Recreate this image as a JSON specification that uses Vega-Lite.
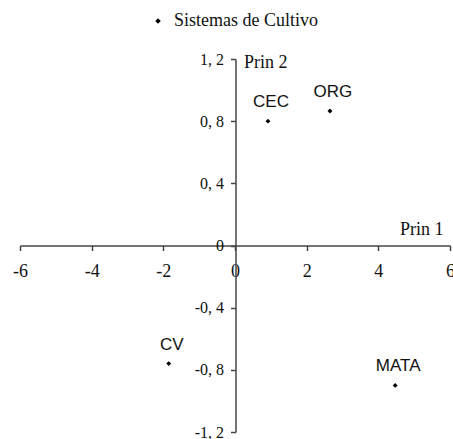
{
  "$schema": "https://vega.github.io/schema/vega-lite/v6.json",
  "autosize": {"type": "none"},
  "width": 430,
  "height": 373,
  "padding": {"left": 20, "top": 59, "right": 3, "bottom": 7},
  "background": "white",
  "config": {"view": {"stroke": null}},
  "data": {"values": [
    {"sistema": "CEC", "prin1": 0.92, "prin2": 0.80, "grupo": "Sistemas de Cultivo"},
    {"sistema": "ORG", "prin1": 2.65, "prin2": 0.865, "grupo": "Sistemas de Cultivo"},
    {"sistema": "CV", "prin1": -1.85, "prin2": -0.76, "grupo": "Sistemas de Cultivo"},
    {"sistema": "MATA", "prin1": 4.47, "prin2": -0.90, "grupo": "Sistemas de Cultivo"}
  ]},
  "layer": [
    {
      "mark": {"type": "point", "shape": "diamond", "filled": true, "size": 24, "opacity": 1},
      "encoding": {
        "x": {"field": "prin1", "type": "quantitative", "scale": {"domain": [-6, 6], "nice": false, "zero": false},
          "axis": {"orient": "bottom", "offset": -186.5, "values": [-6, -4, -2, 0, 2, 4, 6], "grid": false,
            "labelExpr": "toString(datum.value)",
            "title": "Prin 1", "titleFont": "Liberation Serif", "titleFontSize": 18, "titleFontWeight": "normal", "titleColor": "#111",
            "titleAlign": "right", "titleBaseline": "middle", "titleX": 423, "titleY": -16, "titleAngle": 0,
            "labelFont": "Liberation Serif", "labelFontSize": 18, "labelColor": "#111", "labelPadding": 12,
            "domainColor": "#444", "domainWidth": 1.5, "tickColor": "#444", "tickWidth": 1.5, "tickSize": 5, "labelFlush": false}},
        "y": {"field": "prin2", "type": "quantitative", "scale": {"domain": [-1.2, 1.2], "nice": false, "zero": false},
          "axis": {"orient": "left", "offset": -215.5, "values": [-1.2, -0.8, -0.4, 0, 0.4, 0.8, 1.2], "grid": false,
            "labelExpr": "replace(toString(datum.value), '.', ', ')",
            "title": "Prin 2", "titleFont": "Liberation Serif", "titleFontSize": 18, "titleFontWeight": "normal", "titleColor": "#111",
            "titleAlign": "left", "titleBaseline": "middle", "titleX": 8, "titleY": 3, "titleAngle": 0,
            "labelFont": "Liberation Serif", "labelFontSize": 16, "labelColor": "#111", "labelPadding": 7,
            "domainColor": "#444", "domainWidth": 1.5, "tickColor": "#444", "tickWidth": 1.5, "tickSize": 5, "labelFlush": false}},
        "color": {"field": "grupo", "type": "nominal", "scale": {"range": ["#000000"]},
          "legend": {"orient": "none", "legendX": 129, "legendY": -47, "title": null, "padding": 0,
            "symbolType": "diamond", "symbolSize": 30, "labelFont": "Liberation Serif", "labelFontSize": 18, "labelColor": "#111", "labelOffset": 7}}
      }
    },
    {
      "mark": {"type": "text", "font": "Liberation Sans", "fontSize": 17, "color": "#111", "dy": -19, "dx": 3, "baseline": "middle"},
      "encoding": {
        "x": {"field": "prin1", "type": "quantitative"},
        "y": {"field": "prin2", "type": "quantitative"},
        "text": {"field": "sistema"}
      }
    }
  ]
}
